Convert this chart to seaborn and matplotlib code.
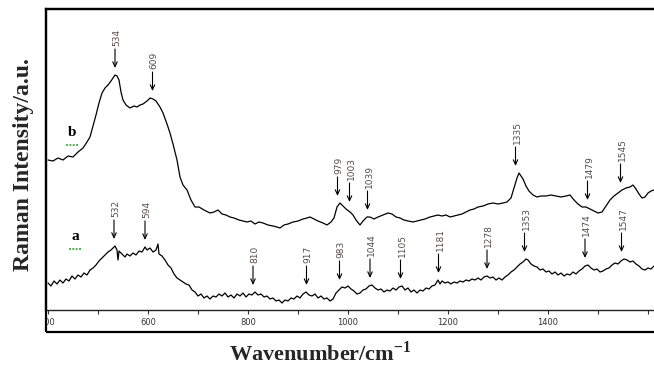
import numpy as np
import pandas as pd
import matplotlib
matplotlib.use("Agg")
import matplotlib.pyplot as plt
import seaborn as sns
from matplotlib.patches import Rectangle

# ---------------- data ----------------
wn_b = [400, 410, 420, 430, 440, 450, 460, 470, 478, 484, 490, 496, 502, 508, 514, 520, 526, 530, 534, 538,
        542, 546, 550, 556, 564, 572, 578, 584, 590, 598, 604, 610, 616, 624, 630, 638, 644, 650, 658, 664,
        670, 678, 686, 694, 702, 712, 724, 732, 740, 748, 756, 764, 772, 782, 790, 798, 806, 814, 822, 830,
        840, 850, 858, 864, 872, 880, 890, 900, 910, 918, 924, 932, 940, 950, 958, 966, 972, 978, 984, 990,
        996, 1004, 1010, 1016, 1024, 1030, 1038, 1044, 1052, 1060, 1070, 1080, 1088, 1096, 1104, 1112, 1120,
        1130, 1138, 1146, 1154, 1164, 1172, 1180, 1188, 1196, 1204, 1212, 1220, 1228, 1236, 1244, 1252, 1260,
        1270, 1280, 1290, 1300, 1310, 1318, 1326, 1332, 1338, 1342, 1346, 1350, 1356, 1362, 1370, 1378, 1386,
        1396, 1406, 1416, 1426, 1436, 1444, 1452, 1460, 1468, 1476, 1484, 1492, 1500, 1508, 1516, 1524, 1532,
        1540, 1548, 1556, 1564, 1570, 1576, 1582, 1588, 1594, 1600, 1606, 1612]
int_b = [150, 149, 152, 150, 154, 153, 158, 162, 168, 173, 184, 195, 207, 217, 222, 225, 229, 232, 235, 234,
         230, 218, 210, 205, 202, 204, 203, 205, 206, 209, 212, 211, 209, 203, 197, 186, 177, 166, 150, 133,
         125, 120, 110, 103, 103, 100, 97, 98, 100, 96, 95, 93, 92, 90, 89, 88, 89, 86, 88, 87,
         85, 84, 83, 82, 85, 86, 88, 89, 91, 92, 93, 91, 89, 87, 85, 88, 92, 103, 107, 104,
         101, 98, 95, 90, 85, 89, 93, 93, 91, 93, 95, 97, 96, 93, 92, 90, 89,
         88, 89, 90, 91, 93, 94, 95, 94, 95, 93, 94, 95, 96, 98, 100, 101, 103,
         104, 106, 107, 106, 107, 108, 112, 122, 132, 137, 134, 131, 124, 119, 115, 113, 114,
         114, 115, 114, 113, 114, 115, 110, 106, 103, 103, 101, 99, 97, 98, 104, 110, 114,
         117, 120, 122, 123, 125, 121, 116, 112, 113, 117, 119, 120]

wn_a = [400, 406, 412, 418, 424, 430, 436, 442, 448, 454, 460, 466, 472, 478, 484, 490, 496, 502, 508, 514,
        520, 526, 530, 534, 538, 540, 542, 548, 554, 558, 564, 570, 576, 582, 588, 594, 598, 604, 610, 616,
        620, 622, 628, 634, 640, 646, 652, 658, 664, 670, 676, 682, 688, 694, 700, 706, 712, 718, 724, 730,
        736, 742, 748, 754, 760, 766, 772, 778, 784, 790, 796, 802, 808, 814, 820, 826, 832, 838, 844, 850,
        856, 862, 868, 874, 880, 886, 892, 898, 904, 910, 916, 922, 928, 934, 940, 946, 952, 958, 964, 970,
        976, 982, 988, 994, 1000, 1006, 1012, 1018, 1024, 1030, 1036, 1042, 1048, 1054, 1060, 1066, 1072,
        1078, 1084, 1090, 1096, 1102, 1108, 1114, 1120, 1126, 1132, 1138, 1144, 1150, 1156, 1162, 1168,
        1174, 1180, 1184, 1188, 1194, 1200, 1206, 1212, 1218, 1224, 1230, 1236, 1242, 1248, 1254, 1260,
        1266, 1272, 1278, 1284, 1290, 1296, 1302, 1308, 1314, 1320, 1326, 1332, 1338, 1344, 1350, 1356,
        1360, 1366, 1372, 1378, 1384, 1390, 1396, 1402, 1408, 1414, 1420, 1426, 1432, 1438, 1444, 1450,
        1456, 1462, 1468, 1474, 1480, 1486, 1492, 1498, 1504, 1510, 1516, 1522, 1528, 1534, 1540, 1546,
        1552, 1558, 1564, 1570, 1576, 1582, 1588, 1594, 1600, 1606, 1612]
int_a = [27, 24, 29, 26, 30, 27, 31, 29, 34, 31, 35, 33, 37, 35, 40, 42, 45, 49, 52, 55,
         58, 60, 62, 64, 60, 50, 59, 56, 53, 56, 54, 57, 55, 59, 58, 63, 60, 62, 58, 60,
         66, 56, 54, 50, 45, 42, 36, 32, 30, 28, 26, 25, 20, 18, 14, 16, 12, 14, 11, 14,
         13, 16, 14, 17, 13, 15, 12, 16, 14, 17, 13, 16, 15, 18, 15, 16, 13, 14, 11, 12,
         9, 10, 7, 10, 9, 12, 11, 14, 12, 16, 18, 15, 14, 16, 12, 14, 11, 12, 9, 11,
         17, 20, 23, 22, 24, 21, 19, 16, 17, 20, 21, 24, 25, 22, 20, 21, 18,
         20, 19, 22, 20, 23, 24, 20, 22, 18, 20, 17, 20, 19, 22, 21, 24,
         25, 30, 26, 29, 27, 28, 26, 28, 27, 29, 28, 30, 29, 31, 30, 32,
         30, 33, 34, 32, 33, 30, 32, 30, 33, 35, 38, 40, 43, 46, 48, 51,
         50, 46, 44, 43, 40, 41, 38, 39, 36, 38, 35, 37, 34, 36, 35, 38,
         36, 39, 41, 44, 45, 42, 40, 41, 38, 39, 41, 42, 45, 47, 46, 49,
         51, 50, 48, 49, 46, 44, 41, 40, 42, 41, 44]

peaks_b = [534, 609, 979, 1003, 1039, 1335, 1479, 1545]
peaks_a = [532, 594, 810, 917, 983, 1044, 1105, 1181, 1278, 1353, 1474, 1547]
series_names = ["a", "b"]
xticks_major = [400, 600, 800, 1000, 1200, 1400, 1600]
xtick_labels = ["400", "600", "800", "1000", "1200", "1400", ""]
xticks_minor = [500, 700, 900, 1100, 1300, 1500]

# ---------------- figure ----------------
sns.set_style("white")
plt.rcParams["font.family"] = ["DejaVu Sans"]
plt.rcParams["mathtext.fontset"] = "custom"
plt.rcParams["mathtext.bf"] = "Liberation Serif:bold"
plt.rcParams["mathtext.rm"] = "Liberation Serif"

W, H = 654, 368
fig = plt.figure(figsize=(W / 100, H / 100), dpi=100)
ax = fig.add_axes([46 / W, 1 - 310 / H, 614 / W, 301 / H])

df_b = pd.DataFrame({"wn": wn_b, "I": int_b})
df_a = pd.DataFrame({"wn": wn_a, "I": int_a})
sns.lineplot(data=df_b, x="wn", y="I", color="black", lw=0.9, ax=ax, sort=False)
sns.lineplot(data=df_a, x="wn", y="I", color="black", lw=0.9, ax=ax, sort=False)

ax.set_xlim(396, 1624)
ax.set_ylim(0, 301)
ax.set_yticks([])
ax.set_xticks(xticks_major)
ax.set_xticks(xticks_minor, minor=True)
ax.set_xticklabels(xtick_labels)
ax.tick_params(axis="x", which="both", direction="out", length=3, width=0.8,
               bottom=True, labelsize=6, pad=3, labelcolor="#333333", color="#333333")
ax.set_xlabel("")
ax.set_ylabel("")
for s in ["left", "top"]:
    ax.spines[s].set_linewidth(1.6)
    ax.spines[s].set_color("black")
ax.spines["bottom"].set_linewidth(1.0)
ax.spines["bottom"].set_color("#222222")
ax.spines["right"].set_visible(False)

frame = Rectangle((46 / W, 1 - 332 / H), 614 / W, 323 / H, transform=fig.transFigure,
                  fill=False, lw=1.6, ec="black")
fig.add_artist(frame)
for lbl in ax.get_xticklabels():
    lbl.set_clip_path(frame)


def annotate_peaks(peaks, wn, inten):
    wn = np.asarray(wn)
    inten = np.asarray(inten)
    for p in peaks:
        near = inten[(wn >= p - 7) & (wn <= p + 7)]
        top = near.max() if len(near) else np.interp(p, wn, inten)
        tip = top + 7
        tail = tip + 19
        ax.annotate("", xy=(p, tip), xytext=(p, tail),
                    arrowprops=dict(arrowstyle="->,head_length=0.35,head_width=0.16",
                                    lw=0.8, color="black", shrinkA=0, shrinkB=0))
        ax.text(p + 3, tail + 3, str(p), rotation=90, ha="center", va="bottom",
                fontsize=6.5, color="#5a4a4a")


annotate_peaks(peaks_b, wn_b, int_b)
annotate_peaks(peaks_a, wn_a, int_a)

# series labels
for name, (lx, ly) in zip(series_names, [(454, 73), (448, 177)]):
    ax.text(lx, ly, name, ha="center", va="center", fontsize=11, fontweight="bold",
            family="Liberation Serif", color="black")
    ax.plot([lx - 12, lx + 12], [ly - 12, ly - 12], color="#3aa53a", lw=1.2,
            linestyle=(0, (1.2, 0.8)))

fig.text(24 / W, 1 - 165 / H, "Raman Intensity/a.u.", rotation=90, ha="center", va="center",
         fontsize=17, fontweight="bold", family="Liberation Serif")
fig.text(320 / W, 1 - 354 / H, r"Wavenumber/cm$^{\mathbf{-1}}$", ha="center", va="center",
         fontsize=16, fontweight="bold", family="Liberation Serif")

fig.savefig("out.png", dpi=100)
